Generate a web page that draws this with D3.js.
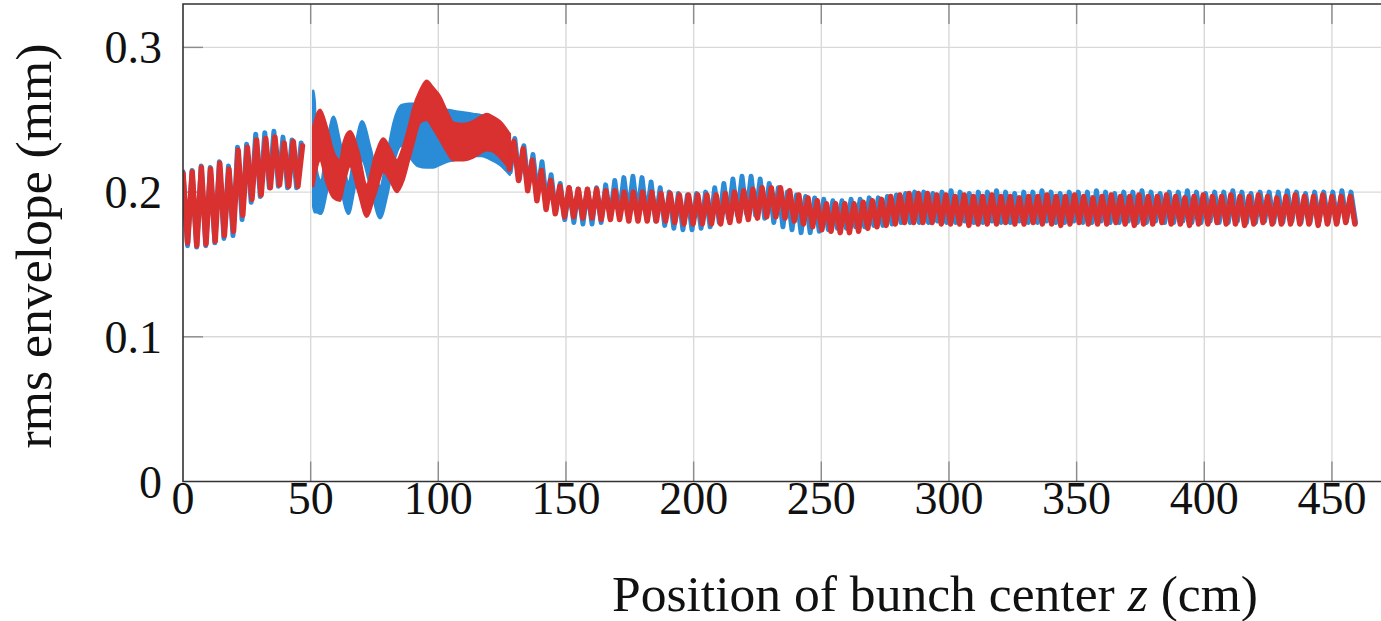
<!DOCTYPE html>
<html>
<head>
<meta charset="utf-8">
<script src="https://d3js.org/d3.v7.min.js"></script>
<style>
  body { margin: 0; background: #fff; }
  svg { display: block; }
  .tickText, .axisTitle { font-family: 'Liberation Serif', 'Times New Roman', serif; fill: #111; }
</style>
</head>
<body>
<script>
// rms envelope values are in micrometres (1e-3 mm).
// Where the fast oscillation is resolved it is stored as successive
// maxima / minima sampled every zStep cm; between ~51 and ~128 cm the
// curves fill a solid band, stored as its lower / upper edge.
const zStepRed = 1.8;
const zStepBlue = 1.78;

const redEarlyStart = 0;
const redEarly = [
  213,165,214,163,217,164,216,166,220,170,216,173,229,184,231,195,236,198,237,203,238,205,234,204,235,204,232
];
const redLateStart = 127.8;
const redLate = [
  216,235,208,230,201,222,194,215,188,208,185,204,183,
  203,183,202,182,202,182,202,181,201,181,
  201,181,200,180,200,180,200,180,200,180,
  199,180,199,179,198,178,198,178,198,178,
  198,178,198,178,199,179,200,180,201,181,
  202,182,203,183,203,183,203,182,201,180,
  198,178,196,176,194,174,192,173,192,172,
  192,172,192,173,193,175,194,176,195,177,
  197,178,198,179,199,179,199,179,199,179,
  198,178,198,178,
  197,178,198,177,197,178,197,178,198,178,
  197,179,197,178,196,178,197,179,197,178,
  198,178,197,177,197,178,198,179,197,178,
  196,178,197,178,198,179,197,178,197,177,
  198,178,197,178,197,179,198,178,197,178,
  196,177,197,178,198,178,197,179,197,178,
  198,178,197,177,197,178,198,179,197,178,
  196,178,197,178,198,178,197,178,197,177,
  198,178,197,178,197,179,197,178
];
const redBandZ    = [51, 53.7, 56.3, 58.9, 61.5, 63, 65.4, 68.7, 71.9, 75.2, 78.5, 81.1, 83.7, 86.3, 88.5, 90.2, 92.8, 95.4, 98, 100.7, 103.3, 105.9, 109.8, 113.7, 116.5, 119, 121.5, 124.1, 128];
const redBandLow  = [204, 222, 206, 196, 194, 205, 218, 200, 183, 198, 214, 208, 200, 208, 222, 233, 248, 250, 244, 236, 228, 222, 222, 224, 227, 229, 228, 224, 216];
const redBandHigh = [245, 257, 245, 228, 222, 235, 242, 228, 205, 225, 237, 230, 222, 232, 246, 258, 270, 277, 272, 266, 256, 248, 247, 249, 252, 254, 252, 249, 240];

const blueEarlyStart = 0;
const blueEarly = [
  214,163,215,162,218,163,217,165,221,168,218,170,231,181,233,193,240,197,241,203,242,204,238,203,236,203,234
];
const blueLateStart = 128.16;
const blueLate = [
  214,237,209,232,204,226,199,
  221,193,212,186,206,181,203,179,202,178,
  202,178,203,179,205,182,208,184,210,185,
  211,185,210,183,207,180,203,177,200,175,
  199,174,198,174,199,175,200,176,203,179,
  206,182,209,184,211,185,211,184,209,182,
  206,179,203,176,200,174,198,172,197,172,
  196,173,195,174,194,175,194,175,195,176,
  195,176,196,177,196,177,197,178,198,179,
  199,179,200,179,
  200,179,199,180,200,179,201,179,200,180,
  199,179,200,179,200,180,201,179,200,179,
  199,180,200,179,200,179,201,180,200,179,
  199,179,200,180,200,179,200,179,201,180,
  200,179,199,179,200,180,200,179,201,179,
  200,180,199,179,200,179,200,180,201,179,
  200,179,199,180,200,179,200,179,201,180,
  200,179,199,179,200,180,200,179,200,179,
  201,180,200,179,199,179,200,180,200,179,
  200,179,201,180,200,179
];
const blueBandZ    = [51, 51.6, 52.4, 54, 56.3, 58.9, 61.5, 64.8, 67.5, 70.1, 73.5, 77.2, 80, 82.5, 85.5, 88.5, 92, 95.4, 98, 100.7, 103.3, 106, 110, 113.7, 117, 120, 124, 128];
const blueBandLow  = [190, 186, 186, 185, 200, 224, 205, 185, 205, 222, 203, 182, 198, 220, 232, 225, 218, 217, 217, 219, 221, 222, 224, 225, 225, 223, 219, 212];
const blueBandHigh = [270, 262, 215, 208, 232, 252, 235, 207, 232, 249, 230, 204, 226, 248, 260, 261, 261, 260, 259, 258, 257, 256, 255, 254, 253, 251, 247, 240];

const xTicks = [0, 50, 100, 150, 200, 250, 300, 350, 400, 450];
const yTicks = [0, 0.1, 0.2, 0.3];
const yTickLabels = ['0', '0.1', '0.2', '0.3'];

const width = 1381, height = 621;
const blue = '#2a8bd7', red = '#d8312f';

const svg = d3.select('body').append('svg')
  .attr('width', width)
  .attr('height', height)
  .style('background', '#fff');

// plot area runs past the right edge of the picture (no right frame visible)
const x = d3.scaleLinear().domain([0, 470]).range([183, 1383]);
const y = d3.scaleLinear().domain([0, 0.33]).range([481.5, 4]);

const plotLeft = x(0), plotRight = x(470), plotTop = y(0.33), plotBottom = y(0);

svg.append('clipPath').attr('id', 'plotClip')
  .append('rect')
  .attr('x', plotLeft).attr('y', plotTop)
  .attr('width', plotRight - plotLeft).attr('height', plotBottom - plotTop);

// grid
const grid = svg.append('g');
grid.selectAll('.vgrid')
  .data(xTicks.filter(d => d > 0))
  .enter().append('line')
  .attr('x1', d => x(d)).attr('x2', d => x(d))
  .attr('y1', plotTop).attr('y2', plotBottom)
  .attr('stroke', '#d9d9d9').attr('stroke-width', 1.4);
grid.selectAll('.hgrid')
  .data(yTicks.filter(d => d > 0))
  .enter().append('line')
  .attr('x1', plotLeft).attr('x2', plotRight)
  .attr('y1', d => y(d)).attr('y2', d => y(d))
  .attr('stroke', '#d9d9d9').attr('stroke-width', 1.4);

// inward tick marks
const tickLen = 20;
const ticks = svg.append('g').attr('stroke', '#8c8c8c').attr('stroke-width', 1.4);
xTicks.filter(d => d > 0).forEach(d => {
  ticks.append('line').attr('x1', x(d)).attr('x2', x(d)).attr('y1', plotBottom).attr('y2', plotBottom - tickLen);
  ticks.append('line').attr('x1', x(d)).attr('x2', x(d)).attr('y1', plotTop).attr('y2', plotTop + tickLen);
});
yTicks.filter(d => d > 0).forEach(d => {
  ticks.append('line').attr('x1', plotLeft).attr('x2', plotLeft + tickLen).attr('y1', y(d)).attr('y2', y(d));
});

// helpers: oscillation record and solid band
const waveLine = (start, step) => d3.line()
  .x((d, i) => x(start + i * step))
  .y(d => y(d / 1000));

const bandArea = zs => d3.area()
  .curve(d3.curveMonotoneX)
  .x((d, i) => x(zs[i]))
  .y0(d => y(d[0] / 1000))
  .y1(d => y(d[1] / 1000));

const curves = svg.append('g').attr('clip-path', 'url(#plotClip)');

function drawSeries(color, width, early, earlyStart, late, lateStart, step, bandZ, bandLow, bandHigh) {
  const g = curves.append('g');
  [[early, earlyStart], [late, lateStart]].forEach(([vals, start]) => {
    g.append('path')
      .attr('d', waveLine(start, step)(vals))
      .attr('fill', 'none')
      .attr('stroke', color)
      .attr('stroke-width', width)
      .attr('stroke-linejoin', 'round')
      .attr('stroke-linecap', 'round');
  });
  g.append('path')
    .attr('d', bandArea(bandZ)(bandLow.map((lo, i) => [lo, bandHigh[i]])))
    .attr('fill', color)
    .attr('stroke', color)
    .attr('stroke-width', 2.5)
    .attr('stroke-linejoin', 'round');
}

drawSeries(blue, 5, blueEarly, blueEarlyStart, blueLate, blueLateStart, zStepBlue, blueBandZ, blueBandLow, blueBandHigh);
drawSeries(red, 5.5, redEarly, redEarlyStart, redLate, redLateStart, zStepRed, redBandZ, redBandLow, redBandHigh);

// frame: left, bottom, top
svg.append('path')
  .attr('d', `M${plotRight},${plotTop}H${plotLeft}V${plotBottom}H${plotRight}`)
  .attr('fill', 'none')
  .attr('stroke', '#333')
  .attr('stroke-width', 1.6);

// tick labels
svg.append('g').selectAll('text')
  .data(xTicks)
  .enter().append('text')
  .classed('tickText', true)
  .attr('x', d => x(d))
  .attr('y', 514)
  .attr('text-anchor', 'middle')
  .style('font-size', '46px')
  .text(d => d);

svg.append('g').selectAll('text')
  .data(yTicks)
  .enter().append('text')
  .classed('tickText', true)
  .attr('x', 162)
  .attr('y', d => y(d) + 16)
  .attr('text-anchor', 'end')
  .style('font-size', '46px')
  .text((d, i) => yTickLabels[i]);

// axis titles
const xTitle = svg.append('text')
  .classed('axisTitle', true)
  .attr('x', 612)
  .attr('y', 611)
  .attr('textLength', 646)
  .attr('lengthAdjust', 'spacingAndGlyphs')
  .style('font-size', '50px');
xTitle.append('tspan').text('Position of bunch center ');
xTitle.append('tspan').style('font-style', 'italic').text('z');
xTitle.append('tspan').text(' (cm)');

svg.append('text')
  .classed('axisTitle', true)
  .attr('transform', 'translate(51,246) rotate(-90)')
  .attr('text-anchor', 'middle')
  .attr('textLength', 405)
  .attr('lengthAdjust', 'spacingAndGlyphs')
  .style('font-size', '50px')
  .text('rms envelope (mm)');
</script>
</body>
</html>
